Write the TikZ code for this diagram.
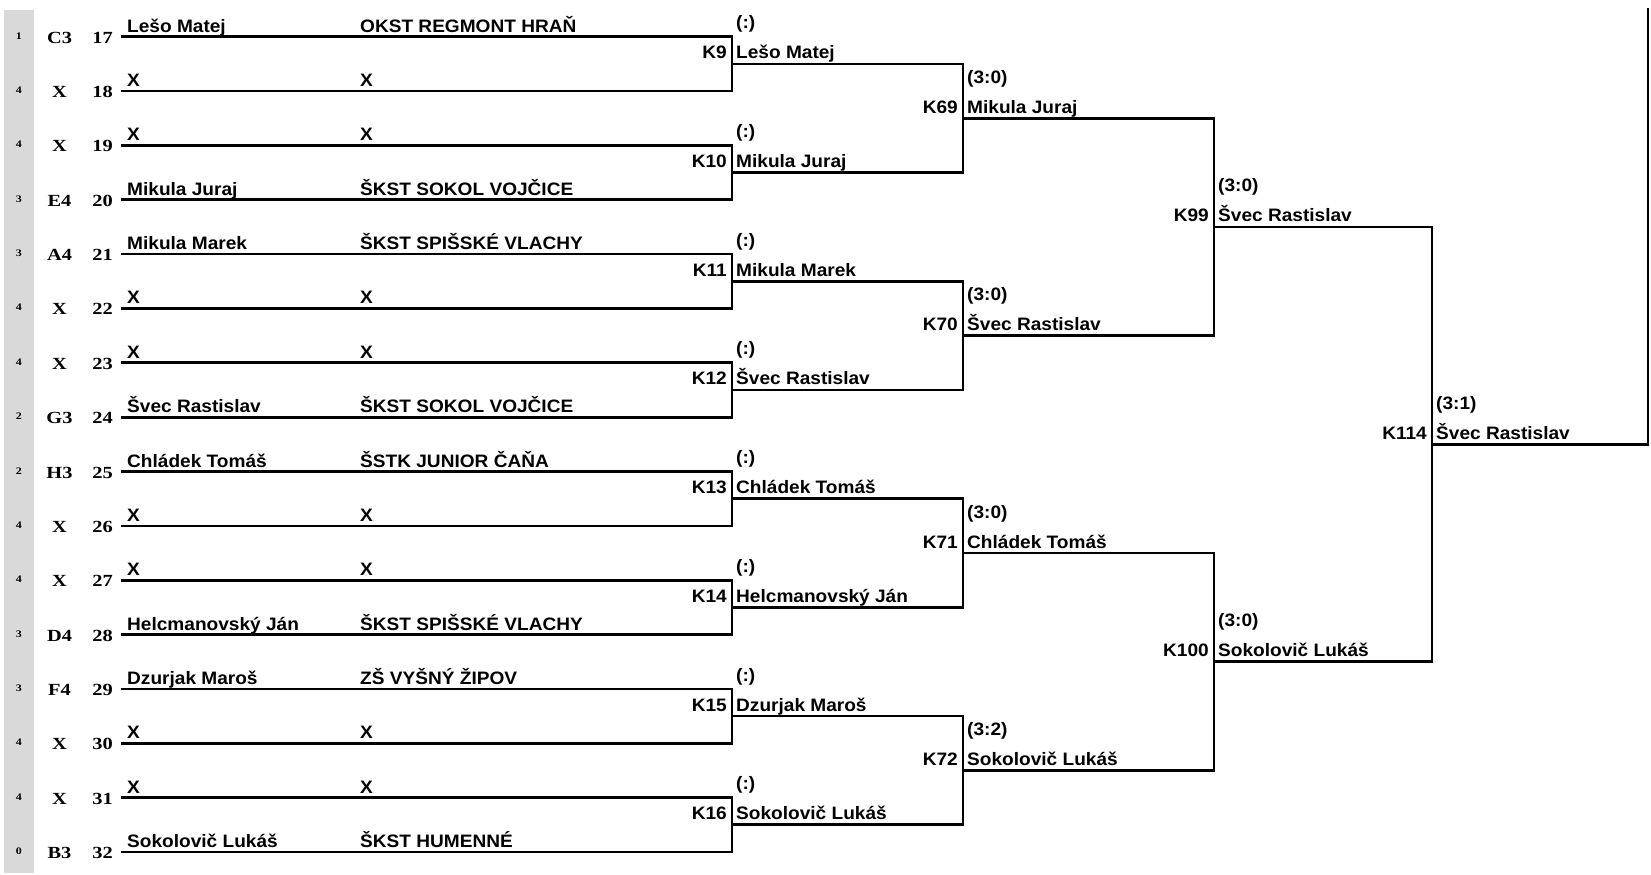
\documentclass[tikz,border=0pt]{standalone}
\usepackage{fontspec}
\setmainfont{Liberation Sans}
\newfontfamily\lblfont[FakeStretch=1.06]{Liberation Sans}
\newfontfamily\serfont[FakeStretch=1.2]{Liberation Serif}
\definecolor{barcolor}{HTML}{D9D9D9}
\tikzset{
  ln/.style={line width=2.7pt, line join=miter, line cap=rect},
  lbl/.style={inner sep=0pt, font=\lblfont\bfseries\fontsize{18}{21}\selectfont},
  rankt/.style={inner sep=0pt, anchor=base, font=\serfont\bfseries\fontsize{10}{12}\selectfont},
  seedt/.style={inner sep=0pt, anchor=base, font=\serfont\bfseries\fontsize{17}{20}\selectfont},
  numt/.style={inner sep=0pt, anchor=base east, font=\serfont\bfseries\fontsize{17}{20}\selectfont},
}
\begin{document}
\begin{tikzpicture}[x=1pt,y=-1pt]
\useasboundingbox (0,0) rectangle (1651,875);
\fill[barcolor] (4,10) rectangle (34,873);
% first round rows
\foreach \rk/\sd/\nr/\nm/\cl [count=\i from 0] in {
  1/C3/17/Lešo Matej/OKST REGMONT HRAŇ,
  4/X/18/X/X,
  4/X/19/X/X,
  3/E4/20/Mikula Juraj/ŠKST SOKOL VOJČICE,
  3/A4/21/Mikula Marek/ŠKST SPIŠSKÉ VLACHY,
  4/X/22/X/X,
  4/X/23/X/X,
  2/G3/24/Švec Rastislav/ŠKST SOKOL VOJČICE,
  2/H3/25/Chládek Tomáš/ŠSTK JUNIOR ČAŇA,
  4/X/26/X/X,
  4/X/27/X/X,
  3/D4/28/Helcmanovský Ján/ŠKST SPIŠSKÉ VLACHY,
  3/F4/29/Dzurjak Maroš/ZŠ VYŠNÝ ŽIPOV,
  4/X/30/X/X,
  4/X/31/X/X,
  0/B3/32/Sokolovič Lukáš/ŠKST HUMENNÉ}{
  \pgfmathsetmacro\yy{36.7+54.35*\i}
  \coordinate (a\i) at (122,\yy);
  \coordinate (b\i) at (732,\yy);
  \node[rankt] (rk\i) at (19,\yy+2.5) {\rk};
  \node[seedt] (sd\i) at (59.5,\yy+6.5) {\sd};
  \node[numt] (nr\i) at (113,\yy+6.5) {\nr};
  \node[lbl, anchor=base west] (nm\i) at (127,\yy-4.5) {\nm};
  \node[lbl, anchor=base west] (cl\i) at (360,\yy-4.5) {\cl};
}
% round 2
\foreach \kn/\w/\s [count=\k from 0] in {
  9/Lešo Matej/{(:)}, 10/Mikula Juraj/{(:)}, 11/Mikula Marek/{(:)}, 12/Švec Rastislav/{(:)},
  13/Chládek Tomáš/{(:)}, 14/Helcmanovský Ján/{(:)}, 15/Dzurjak Maroš/{(:)}, 16/Sokolovič Lukáš/{(:)}}{
  \pgfmathtruncatemacro\ia{2*\k}
  \pgfmathtruncatemacro\ib{2*\k+1}
  \pgfmathsetmacro\ym{63.875+108.7*\k}
  \draw[ln] (a\ia) -- (b\ia) -- (b\ib) -- (a\ib);
  \coordinate (o2-\k) at (732,\ym);
  \coordinate (e2-\k) at (963,\ym);
  \draw[ln] (o2-\k) -- (e2-\k);
  \node[lbl, anchor=base east] (k2-\k) at (727,\ym-5) {K\kn};
  \node[lbl, anchor=base west] (w2-\k) at (736,\ym-5) {\w};
  \node[lbl, anchor=base west] (s2-\k) at (736,\ym-35) {\s};
}
% round 3
\foreach \kn/\w/\s [count=\k from 0] in {
  69/Mikula Juraj/{(3:0)}, 70/Švec Rastislav/{(3:0)}, 71/Chládek Tomáš/{(3:0)}, 72/Sokolovič Lukáš/{(3:2)}}{
  \pgfmathtruncatemacro\ia{2*\k}
  \pgfmathtruncatemacro\ib{2*\k+1}
  \pgfmathsetmacro\ym{118.225+217.4*\k}
  \draw[ln] (e2-\ia) -- (e2-\ib);
  \coordinate (o3-\k) at (963,\ym);
  \coordinate (e3-\k) at (1214,\ym);
  \draw[ln] (o3-\k) -- (e3-\k);
  \node[lbl, anchor=base east] (k3-\k) at (958,\ym-5) {K\kn};
  \node[lbl, anchor=base west] (w3-\k) at (967,\ym-5) {\w};
  \node[lbl, anchor=base west] (s3-\k) at (967,\ym-35) {\s};
}
% round 4
\foreach \kn/\w/\s [count=\k from 0] in {
  99/Švec Rastislav/{(3:0)}, 100/Sokolovič Lukáš/{(3:0)}}{
  \pgfmathtruncatemacro\ia{2*\k}
  \pgfmathtruncatemacro\ib{2*\k+1}
  \pgfmathsetmacro\ym{226.925+434.8*\k}
  \draw[ln] (e3-\ia) -- (e3-\ib);
  \coordinate (o4-\k) at (1214,\ym);
  \coordinate (e4-\k) at (1432,\ym);
  \draw[ln] (o4-\k) -- (e4-\k);
  \node[lbl, anchor=base east] (k4-\k) at (1209,\ym-5) {K\kn};
  \node[lbl, anchor=base west] (w4-\k) at (1218,\ym-5) {\w};
  \node[lbl, anchor=base west] (s4-\k) at (1218,\ym-35) {\s};
}
% final
\draw[ln] (e4-0) -- (e4-1);
\coordinate (o5) at (1432,444.325);
\coordinate (e5) at (1648,444.325);
\coordinate (top) at (1648,9);
\draw[ln] (o5) -- (e5) -- (top);
\node[lbl, anchor=base east] (k5) at (1427,444.325-5) {K114};
\node[lbl, anchor=base west] (w5) at (1436,444.325-5) {Švec Rastislav};
\node[lbl, anchor=base west] (s5) at (1436,444.325-35) {(3:1)};
\end{tikzpicture}
\end{document}
